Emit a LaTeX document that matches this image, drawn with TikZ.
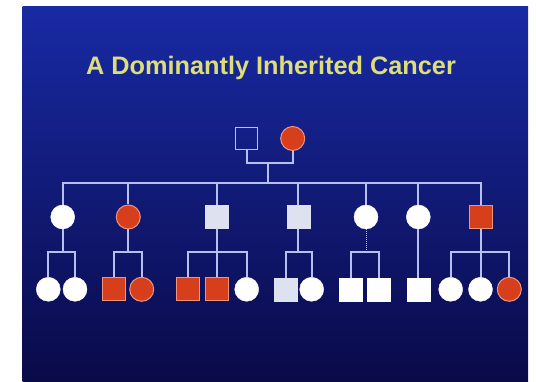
\documentclass[tikz,border=0pt]{standalone}
\usepackage{fontspec}
\setmainfont{Liberation Sans}
\definecolor{slidetop}{RGB}{24,42,164}
\definecolor{slidebot}{RGB}{10,10,72}
\definecolor{titlecol}{RGB}{222,222,120}
\definecolor{linecol}{RGB}{184,192,240}
\definecolor{redfill}{RGB}{214,62,28}
\definecolor{redline}{RGB}{236,150,130}
\definecolor{palefill}{RGB}{222,225,240}
\begin{document}
\begin{tikzpicture}[x=1pt,y=-1pt,
  pline/.style={linecol,line width=2pt},
  male/.style={rectangle,draw=palefill,fill=palefill,minimum size=23pt,inner sep=0pt},
  female/.style={circle,draw=white,fill=white,minimum size=24pt,inner sep=0pt},
  affmale/.style={rectangle,draw=redline,fill=redfill,line width=1pt,minimum size=23pt,inner sep=0pt},
  afffemale/.style={circle,draw=redline,fill=redfill,line width=1pt,minimum size=24pt,inner sep=0pt}]
\useasboundingbox (0,0) rectangle (536,382);
\fill [white](0,0) rectangle (536,382);
\shade [top color=slidetop,bottom color=slidebot](22.7,6.7) rectangle (528,382);

\node [anchor=base,text=titlecol,font=\bfseries\fontsize{25.3}{29}\selectfont] (title) at (271,75) {A Dominantly Inherited Cancer};

% first generation
\node [rectangle,draw=linecol,line width=1.5pt,minimum size=22pt,inner sep=0pt] (I1) at (246.7,138.7) {};
\node [afffemale] (I2) at (292.7,138.5) {};
\coordinate (m1) at (267.7,162.7);
\coordinate (s1) at (267.7,183.3);
\draw [pline](I1.south) |- (m1) -| (I2.south);
\draw [pline](m1) -- (s1);

% second generation
\node [female] (II1) at (62.7,217) {};
\node [afffemale] (II2) at (128.3,217) {};
\node [male] (II3) at (216.7,217) {};
\node [male] (II4) at (298.3,217) {};
\node [female] (II5) at (366,217) {};
\node [female] (II6) at (418.3,217) {};
\node [affmale] (II7) at (480.5,217) {};
\draw [pline](II1.north) |- (s1) -| (II7.north);
\foreach \n in {II2,II3,II4,II5,II6}
  \draw [pline](\n.north) -- (\n |- s1);

% third generation
\coordinate (f1) at (62.7,251.7);
\coordinate (f2) at (128.3,251.7);
\coordinate (f3) at (216.7,251.7);
\coordinate (f4) at (298.3,251.7);
\coordinate (f5) at (366,251.7);
\coordinate (f7) at (480.5,251.7);

\node [female] (III1) at (48.3,289.3) {};
\node [female] (III2) at (75,289.3) {};
\node [affmale] (III3) at (113.5,289.3) {};
\node [afffemale] (III4) at (141.7,289.3) {};
\node [affmale] (III5) at (188.3,289.3) {};
\node [affmale] (III6) at (216.7,289.3) {};
\node [female] (III7) at (246.7,289.3) {};
\node [male] (III8) at (286,289.3) {};
\node [female] (III9) at (311.7,289.3) {};
\node [male,fill=white,draw=white] (III10) at (351,289.3) {};
\node [male,fill=white,draw=white] (III11) at (379,289.3) {};
\node [male,fill=white,draw=white] (III12) at (418.3,289.3) {};
\node [female] (III13) at (450.7,289.3) {};
\node [female] (III14) at (480.5,289.3) {};
\node [afffemale] (III15) at (509.3,289.3) {};

\draw [pline](II1.south) -- (f1);
\draw [pline](III1.north) |- (f1) -| (III2.north);
\draw [pline](II2.south) -- (f2);
\draw [pline](III3.north) |- (f2) -| (III4.north);
\draw [pline](II3.south) -- (III6.north);
\draw [pline](III5.north) |- (f3) -| (III7.north);
\draw [pline](II4.south) -- (f4);
\draw [pline](III8.north) |- (f4) -| (III9.north);
\draw [linecol,line width=1pt,densely dotted](II5.south) -- (f5);
\draw [pline](III10.north) |- (f5) -| (III11.north);
\draw [pline](II6.south) -- (III12.north);
\draw [pline](II7.south) -- (III14.north);
\draw [pline](III13.north) |- (f7) -| (III15.north);

\end{tikzpicture}
\end{document}
